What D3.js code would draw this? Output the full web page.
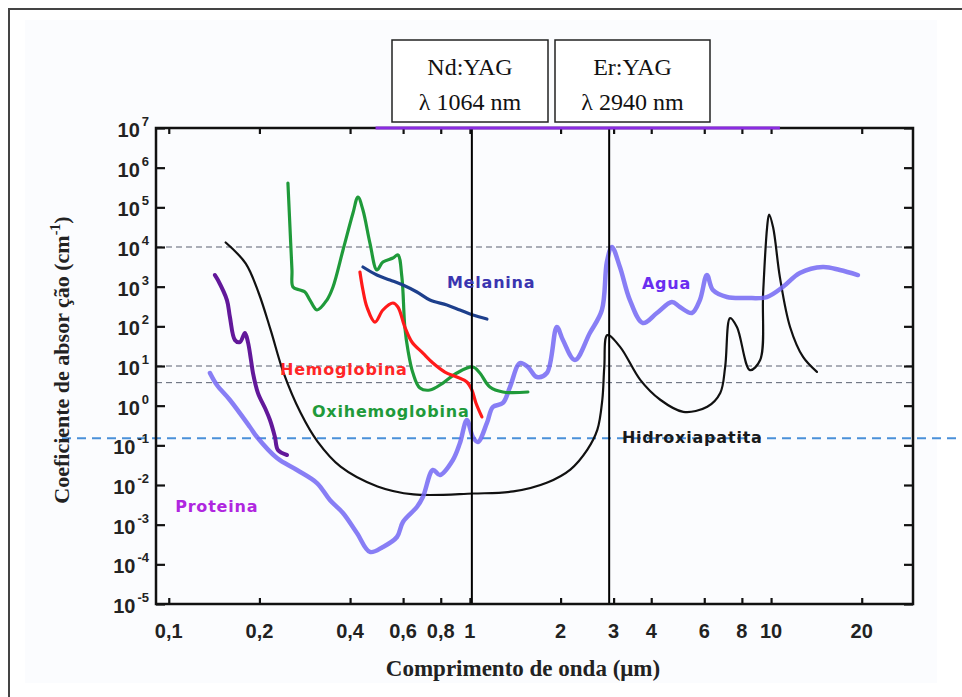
<!DOCTYPE html>
<html>
<head>
<meta charset="utf-8">
<script src="https://cdn.jsdelivr.net/npm/d3@7"></script>
<style>
  body { margin: 0; background: #fff; }
</style>
</head>
<body>
<svg id="chart" width="962" height="697"></svg>
<script>
// ---- data (wavelength in µm, absorption coefficient in cm^-1) ----
const xTicks      = [0.1, 0.2, 0.4, 0.6, 0.8, 1, 2, 3, 4, 6, 8, 10, 20];
const xTickLabels = ["0,1", "0,2", "0,4", "0,6", "0,8", "1", "2", "3", "4", "6", "8", "10", "20"];
const yExponents  = [-5, -4, -3, -2, -1, 0, 1, 2, 3, 4, 5, 6, 7];

const laserNames       = ["Nd:YAG", "Er:YAG"];
const laserWavelengths = ["λ 1064 nm", "λ 2940 nm"];
const laserLines       = [1.015, 2.9];

const grayLevels = [1e4, 10, 3.8];
const blueLevel  = 0.15;
const aguaTop    = [0.486, 10.7];   // purple run along the top edge

const proteina = [
  [0.1423, 1965], [0.1456, 1470], [0.156, 460], [0.1596, 172], [0.1659, 45],
  [0.1723, 40], [0.179, 68], [0.1832, 40], [0.1875, 14.2], [0.1904, 6.65],
  [0.1978, 2.08], [0.2087, 0.87], [0.2168, 0.435], [0.2252, 0.162],
  [0.2304, 0.076], [0.2469, 0.057]
];

const agua = [
  [0.137, 6.65], [0.1445, 3.31], [0.1596, 1.39], [0.186, 0.29], [0.1963, 0.162],
  [0.2287, 0.0479], [0.2665, 0.0239], [0.3105, 0.0112], [0.3428, 0.00419],
  [0.3788, 0.00197], [0.4214, 0.000617], [0.4656, 0.000205], [0.5142, 0.000274],
  [0.5725, 0.000489], [0.5993, 0.00117], [0.6668, 0.00279], [0.698, 0.00498],
  [0.7536, 0.0239], [0.795, 0.0179], [0.878, 0.0427], [0.9265, 0.114],
  [0.977, 0.435], [1.023, 0.162], [1.063, 0.121], [1.139, 0.366], [1.192, 0.925],
  [1.287, 1.17], [1.358, 2.95], [1.466, 11.9], [1.558, 9.42], [1.669, 5.27],
  [1.801, 6.65], [1.944, 96], [2.036, 45.2], [2.232, 14.2], [2.502, 67.8],
  [2.743, 258], [2.85, 4180], [2.96, 10000], [3.148, 3130], [3.398, 460],
  [3.753, 121], [4.177, 217], [4.685, 410], [4.98, 307], [5.458, 217],
  [5.802, 460], [6.123, 1965], [6.41, 822], [7.135, 548], [8.31, 518],
  [9.68, 548], [10.94, 980], [12.46, 2210], [14.86, 3130], [16.92, 2630],
  [19.42, 1965]
];

const hidroxiapatita = [
  [0.1545, 13000], [0.18, 3860], [0.199, 682], [0.218, 80], [0.2406, 6.7],
  [0.274, 0.66], [0.312, 0.124], [0.372, 0.029], [0.4935, 0.0092], [0.65, 0.0058],
  [1.027, 0.0061], [1.394, 0.0069], [1.808, 0.0116], [2.155, 0.0245],
  [2.455, 0.078], [2.65, 0.248], [2.752, 1.41], [2.794, 9.5], [2.859, 60],
  [3.157, 30], [3.678, 4.47], [4.285, 1.41], [5.11, 0.70], [6.14, 0.94],
  [6.78, 2.1], [7.04, 9.5], [7.31, 161], [7.71, 95], [8.51, 7.9], [9.2, 14.2],
  [9.41, 682], [9.70, 31000], [9.85, 65800], [10.16, 31000], [10.7, 1720],
  [11.57, 95], [12.77, 16.9], [14.2, 7.1]
];

const oxihemoglobina = [
  [0.2487, 410000], [0.2526, 31900], [0.2565, 2630], [0.2585, 980], [0.2727, 822],
  [0.2833, 733], [0.2943, 460], [0.3105, 258], [0.335, 460], [0.351, 980],
  [0.379, 8400], [0.409, 71800], [0.4248, 182000], [0.4413, 85500], [0.4656, 12600],
  [0.491, 2630], [0.5142, 4180], [0.555, 5270], [0.5767, 6280], [0.5944, 1750],
  [0.608, 96], [0.6225, 25.3], [0.6468, 6.65], [0.6823, 2.79], [0.7365, 2.48],
  [0.8135, 3.72], [0.905, 6.65], [1.023, 9.42], [1.079, 6.65], [1.165, 2.95],
  [1.287, 2.21], [1.558, 2.21]
];

const hemoglobina = [
  [0.4313, 2340], [0.4413, 822], [0.455, 307], [0.4837, 128], [0.5142, 258],
  [0.555, 387], [0.5767, 307], [0.608, 96], [0.6418, 40.3], [0.698, 21.2],
  [0.7536, 11.9], [0.826, 7.05], [0.905, 5.27], [0.977, 3.95], [1.015, 2.48],
  [1.047, 1.17], [1.096, 0.52]
];

const melanina = [
  [0.4413, 3130], [0.491, 1965], [0.5426, 1470], [0.5993, 1100], [0.6668, 733],
  [0.7365, 460], [0.8386, 344], [0.9265, 258], [1.023, 193], [1.139, 153]
];

// ---- layout ----
const svg = d3.select("#chart");
const plotLeft = 156, plotRight = 913, plotTop = 128, plotBottom = 604;

const x = d3.scaleLog().domain([0.0907, 29.6]).range([plotLeft, plotRight]);
const y = d3.scaleLog().domain([1e-5, 1e7]).range([plotBottom, plotTop]);

// faint backdrop and outer frame
svg.append("rect").attr("x", 25).attr("y", 20).attr("width", 912).attr("height", 663)
  .attr("fill", "#fbfcfe");
svg.append("path").attr("d", "M9,697V9H962")
  .attr("fill", "none").attr("stroke", "#444").attr("stroke-width", 2);

// dashed reference levels
svg.selectAll(".gray-level").data(grayLevels).join("line")
  .attr("x1", plotLeft).attr("x2", plotRight)
  .attr("y1", d => y(d)).attr("y2", d => y(d))
  .attr("stroke", "#5a6070").attr("stroke-width", 1)
  .attr("stroke-dasharray", "6,4");

svg.append("line")
  .attr("x1", 62).attr("x2", 962)
  .attr("y1", y(blueLevel)).attr("y2", y(blueLevel))
  .attr("stroke", "#4a90d9").attr("stroke-width", 2)
  .attr("stroke-dasharray", "9,6");

// curves
const line = d3.line()
  .x(d => x(d[0]))
  .y(d => y(d[1]))
  .curve(d3.curveCatmullRom.alpha(0.5));

const series = [
  { data: hidroxiapatita, color: "#111",    width: 2.2, opacity: 1 },
  { data: agua,           color: "#7367f3", width: 4.5, opacity: 0.85 },
  { data: proteina,       color: "#62189a", width: 4,   opacity: 1 },
  { data: oxihemoglobina, color: "#1f9a3a", width: 3.2, opacity: 1 },
  { data: hemoglobina,    color: "#ff1a1a", width: 3.2, opacity: 1 },
  { data: melanina,       color: "#1d3f8c", width: 3.2, opacity: 1 }
];

svg.selectAll(".curve").data(series).join("path")
  .attr("d", d => line(d.data))
  .attr("fill", "none")
  .attr("stroke", d => d.color)
  .attr("stroke-width", d => d.width)
  .attr("stroke-opacity", d => d.opacity)
  .attr("stroke-linejoin", "round")
  .attr("stroke-linecap", "round");

// laser wavelength lines
svg.selectAll(".laser").data(laserLines).join("line")
  .attr("x1", d => x(d)).attr("x2", d => x(d))
  .attr("y1", plotTop).attr("y2", plotBottom)
  .attr("stroke", "#000").attr("stroke-width", 2);

// axes with inward ticks
const noLabel = () => "";
const tickStyle = g => {
  g.select(".domain").remove();
  g.selectAll(".tick line").attr("stroke", "#111").attr("stroke-width", 2.2);
};
const yVals = yExponents.map(e => Math.pow(10, e));

svg.append("g").attr("transform", `translate(${plotLeft},0)`)
  .call(d3.axisLeft(y).tickValues(yVals).tickSizeInner(-9).tickSizeOuter(0).tickFormat(noLabel))
  .call(tickStyle);
svg.append("g").attr("transform", `translate(${plotRight},0)`)
  .call(d3.axisRight(y).tickValues(yVals).tickSizeInner(-9).tickSizeOuter(0).tickFormat(noLabel))
  .call(tickStyle);
svg.append("g").attr("transform", `translate(0,${plotBottom})`)
  .call(d3.axisBottom(x).tickValues(xTicks).tickSizeInner(-6).tickSizeOuter(0).tickFormat(noLabel))
  .call(tickStyle);
svg.append("g").attr("transform", `translate(0,${plotTop})`)
  .call(d3.axisTop(x).tickValues(xTicks).tickSizeInner(-6).tickSizeOuter(0).tickFormat(noLabel))
  .call(tickStyle);

svg.append("rect")
  .attr("x", plotLeft).attr("y", plotTop)
  .attr("width", plotRight - plotLeft).attr("height", plotBottom - plotTop)
  .attr("fill", "none").attr("stroke", "#111").attr("stroke-width", 2.5);

// purple run on the top edge
svg.append("line")
  .attr("x1", x(aguaTop[0])).attr("x2", x(aguaTop[1]))
  .attr("y1", y(1e7)).attr("y2", y(1e7))
  .attr("stroke", "#8a2be2").attr("stroke-width", 3);

// y tick labels 10^n
const yLab = svg.selectAll(".ylab").data(yExponents).join("text")
  .attr("x", 149).attr("y", d => y(Math.pow(10, d)) + 9)
  .attr("text-anchor", "end")
  .attr("font-family", "'Liberation Sans', Arial, sans-serif")
  .attr("font-weight", "bold").attr("font-size", 20).attr("fill", "#222");
yLab.append("tspan").text("10");
yLab.append("tspan").attr("dy", -11).attr("font-size", 13).attr("dx", 2).text(d => d);

// x tick labels
svg.selectAll(".xlab").data(xTicks).join("text")
  .attr("x", d => x(d)).attr("y", 638)
  .attr("text-anchor", "middle")
  .attr("font-family", "'Liberation Sans', Arial, sans-serif")
  .attr("font-weight", "bold").attr("font-size", 20).attr("fill", "#222")
  .text((d, i) => xTickLabels[i]);

// axis titles
svg.append("text")
  .attr("x", 523).attr("y", 676)
  .attr("text-anchor", "middle")
  .attr("font-family", "'Liberation Serif', 'Times New Roman', serif")
  .attr("font-weight", "bold").attr("font-size", 23).attr("fill", "#222")
  .text("Comprimento de onda (μm)");

const yTitle = svg.append("text")
  .attr("transform", "translate(69,360) rotate(-90)")
  .attr("text-anchor", "middle")
  .attr("font-family", "'Liberation Serif', 'Times New Roman', serif")
  .attr("font-weight", "bold").attr("font-size", 22).attr("fill", "#222");
yTitle.append("tspan").text("Coeficiente de absor ção (cm");
yTitle.append("tspan").attr("dy", -9).attr("font-size", 14).text("-1");
yTitle.append("tspan").attr("dy", 9).text(")");

// laser boxes
const boxes = [{ x: 392, w: 156 }, { x: 555, w: 155 }];
boxes.forEach((b, i) => {
  svg.append("rect")
    .attr("x", b.x).attr("y", 40).attr("width", b.w).attr("height", 82)
    .attr("fill", "#fff").attr("stroke", "#222").attr("stroke-width", 1.5);
  const t = svg.append("text")
    .attr("text-anchor", "middle")
    .attr("font-family", "'Liberation Serif', 'Times New Roman', serif")
    .attr("font-size", 24).attr("fill", "#111");
  t.append("tspan").attr("x", b.x + b.w / 2).attr("y", 75).text(laserNames[i]);
  t.append("tspan").attr("x", b.x + b.w / 2).attr("y", 110).text(laserWavelengths[i]);
});

// curve labels
const labels = [
  { text: "Proteina",       at: [0.105, 0.00208], color: "#b026e0" },
  { text: "Hemoglobina",    at: [0.234, 6.0],     color: "#ff2626" },
  { text: "Oxihemoglobina", at: [0.2988, 0.53],   color: "#1f9a3a" },
  { text: "Melanina",       at: [0.8386, 900],    color: "#3a35b0" },
  { text: "Agua",           at: [3.724, 850],     color: "#6a2ef0" },
  { text: "Hidroxiapatita", at: [3.196, 0.114],   color: "#1a1a1a" }
];
svg.selectAll(".clab").data(labels).join("text")
  .attr("x", d => x(d.at[0])).attr("y", d => y(d.at[1]))
  .attr("font-family", "'DejaVu Sans', Verdana, sans-serif")
  .attr("font-weight", "bold").attr("font-size", 16)
  .attr("letter-spacing", 0.8)
  .attr("fill", d => d.color)
  .text(d => d.text);
</script>
</body>
</html>
